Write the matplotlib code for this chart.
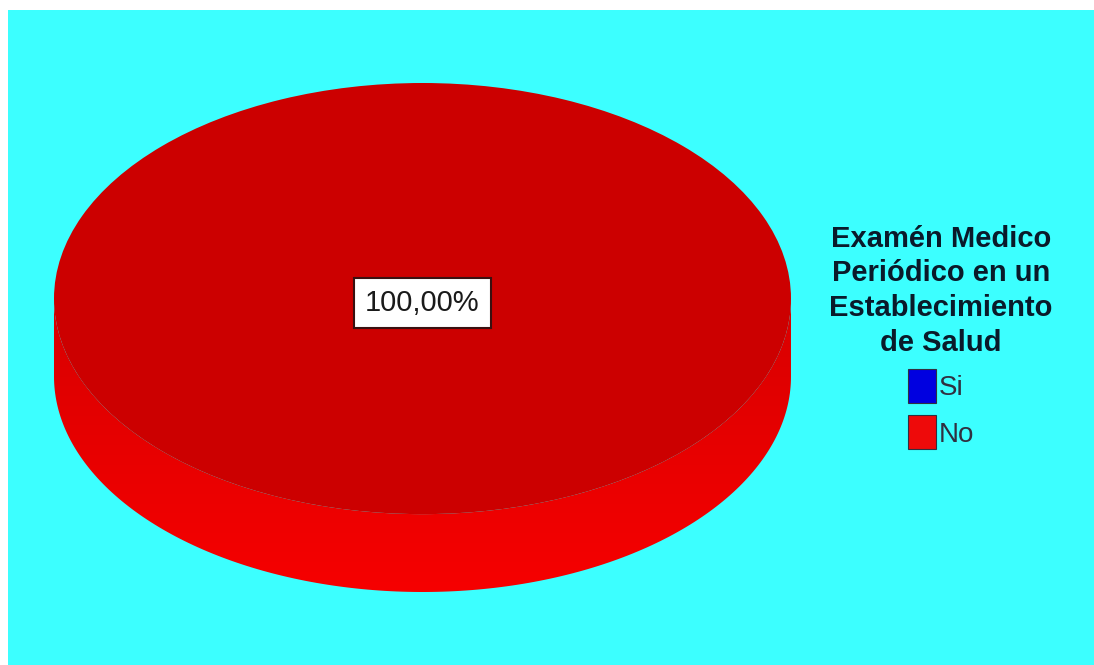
import numpy as np
import matplotlib
matplotlib.use('Agg')
import matplotlib.pyplot as plt
from matplotlib.patches import Rectangle, Patch, Polygon
from matplotlib.colors import LinearSegmentedColormap

# Examen medico periodico - respuestas (%)
categorias = ['Si', 'No']
porcentajes = [0.0, 100.0]
colores_leyenda = ['#0000e0', '#ee0a0a']
titulo = 'Examén Medico\nPeriódico en un\nEstablecimiento\nde Salud'

W, H = 1094, 665
fig = plt.figure(figsize=(W / 100, H / 100), dpi=100, facecolor='white')

# fondo cian (deja un borde blanco arriba e izquierda)
fig.patches.append(Rectangle((8 / W, 0), 1 - 8 / W, 1 - 10 / H,
                             transform=fig.transFigure, facecolor='#3cffff',
                             edgecolor='none', zorder=-5))

# geometria del pastel en pixeles
left, right, top, bottom = 54, 791, 83, 592
b = 216.0
grosor = 78.0
t = grosor / b

ax = fig.add_axes([left / W, 1 - bottom / H, (right - left) / W, (bottom - top) / H])
ax.patch.set_visible(False)

def etiqueta(p):
    return ('%.2f%%' % p).replace('.', ',') if p > 0 else ''

wedges, textos, autotextos = ax.pie(
    porcentajes, colors=['#0000cc', '#cc0000'], radius=1, center=(0, 0),
    startangle=90, autopct=etiqueta, pctdistance=0,
    wedgeprops=dict(linewidth=0, zorder=2), frame=True)

for txt in autotextos:
    txt.set_fontfamily(['Liberation Sans', 'DejaVu Sans'])
    txt.set_fontsize(21)
    txt.set_color('#1a1a1a')
    txt.set_zorder(5)
    txt.set_position((0, -0.02))
    txt.set_bbox(dict(boxstyle='square,pad=0.38', facecolor='white',
                      edgecolor='#3a1010', linewidth=1.5))

# lado del cilindro con degradado
th = np.linspace(np.pi, 2 * np.pi, 200)
xs = np.concatenate([np.cos(th), np.cos(th[::-1])])
ys = np.concatenate([np.sin(th), np.sin(th[::-1]) - t])
lado = Polygon(np.column_stack([xs, ys]), closed=True, facecolor='none',
               edgecolor='none', transform=ax.transData)
ax.add_patch(lado)
cmap = LinearSegmentedColormap.from_list('lado', ['#f60000', '#d80000'])
grad = np.linspace(0, 1, 256).reshape(-1, 1)
img = ax.imshow(grad, extent=(-1, 1, -1 - t, 0), origin='lower', cmap=cmap,
                aspect='auto', zorder=1, interpolation='bilinear')
img.set_clip_path(lado)

ax.set_xlim(-1, 1)
ax.set_ylim(-1 - t, 1)
ax.set_aspect('auto')
ax.axis('off')

# leyenda
handles = [Patch(facecolor=c, edgecolor='#303040', linewidth=0.8) for c in colores_leyenda]
leg = fig.legend(handles, categorias, loc='center', bbox_to_anchor=(941 / W, 1 - 337 / H),
                 frameon=False, title=titulo, alignment='center',
                 prop={'family': 'Liberation Sans', 'size': 20},
                 title_fontproperties={'family': 'Liberation Sans', 'weight': 'bold', 'size': 21},
                 handlelength=1.0, handleheight=1.5, handletextpad=0.1,
                 labelspacing=0.45)
for txt in leg.get_texts():
    txt.set_color('#303040')
leg.get_title().set_color('#0a1a2a')
leg.get_title().set_multialignment('center')
leg.get_title().set_linespacing(1.3)

fig.savefig('out.png', dpi=100, facecolor='white')
